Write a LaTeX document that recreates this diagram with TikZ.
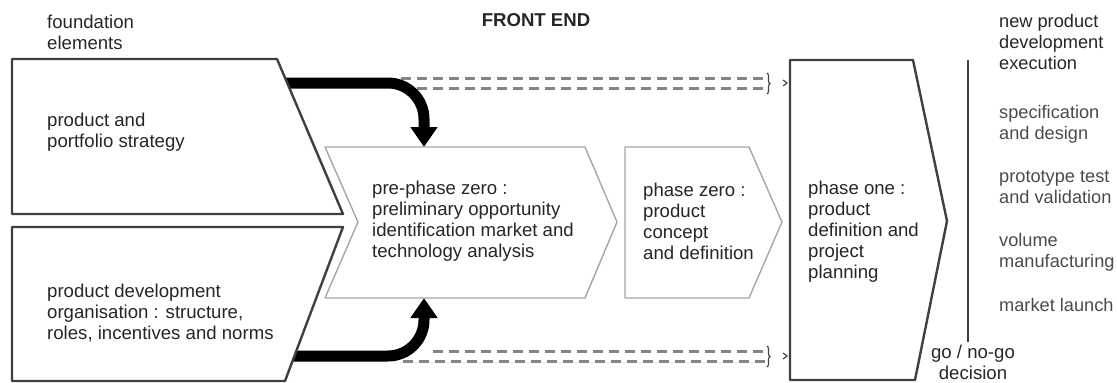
\documentclass[tikz,border=0pt]{standalone}
\usepackage{fontspec}
\setmainfont{Liberation Sans}
\usetikzlibrary{arrows.meta,calc,decorations.pathreplacing}
\definecolor{ink}{HTML}{262626}
\definecolor{soft}{HTML}{4A4A4A}
\definecolor{edge}{HTML}{404040}
\definecolor{pale}{HTML}{A6A6A6}
\definecolor{dashgrey}{HTML}{858585}
\begin{document}
\begin{tikzpicture}[x=1pt,y=-1pt,
  txt/.style={font=\fontsize{18.6}{21}\selectfont, text=ink, align=left, anchor=west, inner sep=0pt},
  sidetxt/.style={txt, font=\fontsize{18.2}{21}\selectfont, text=soft},
  heavybox/.style={draw=edge, line width=2.4pt, fill=white, line join=round},
  lightbox/.style={draw=pale, line width=1.4pt, fill=white, line join=round},
  feed/.style={line width=11pt, rounded corners=36pt, -{Triangle[width=26pt,length=20pt]}},
  trace/.style={draw=dashgrey, line width=3pt, dash pattern=on 10pt off 6pt},
  tick/.style={draw=edge, line width=1.1pt},
  divider/.style={draw=edge, line width=2.4pt}]
\useasboundingbox (0,0) rectangle (1117,383);

% corner points of the shapes
\coordinate (a1) at (12,59);   \coordinate (a2) at (277,59);
\coordinate (a3) at (343,214); \coordinate (a4) at (12,214);
\coordinate (b1) at (12,227);  \coordinate (b2) at (343,227);
\coordinate (b3) at (285,381); \coordinate (b4) at (12,381);
\coordinate (p1) at (325,147); \coordinate (p2) at (585,147);
\coordinate (p3) at (617,222); \coordinate (p4) at (585,298);
\coordinate (p5) at (325,298); \coordinate (p6) at (358,222);
\coordinate (z1) at (625,147); \coordinate (z2) at (749,147);
\coordinate (z3) at (782,222); \coordinate (z4) at (749,298);
\coordinate (z5) at (625,298);
\coordinate (o1) at (790,60);  \coordinate (o2) at (913,60);
\coordinate (o3) at (947,221); \coordinate (o4) at (915,380);
\coordinate (o5) at (790,380);

% dashed continuation to phase one (drawn under the feed arrows)
\coordinate (u1) at (401,78);  \coordinate (u2) at (765,78);
\coordinate (u3) at (401,88);  \coordinate (u4) at (765,88);
\coordinate (l1) at (433,351); \coordinate (l2) at (765,351);
\coordinate (l3) at (403,361); \coordinate (l4) at (765,361);
\draw[trace] (u1) -- (u2);
\draw[trace] (u3) -- (u4);
\draw[trace] (l1) -- (l2);
\draw[trace] (l3) -- (l4);

% heavy feed arrows from the foundation elements
\coordinate (s1) at (280,83);  \coordinate (t1) at (424,147);
\coordinate (s2) at (288,356); \coordinate (t2) at (424,298);
\draw[feed] (s1) -| (t1);
\draw[feed] (s2) -| (t2);

% foundation blocks
\path[heavybox] (a1) -- (a2) -- (a3) -- (a4) -- cycle;
\path[heavybox] (b1) -- (b2) -- (b3) -- (b4) -- cycle;

% front end chevrons
\path[lightbox] (p1) -- (p2) -- (p3) -- (p4) -- (p5) -- (p6) -- cycle;
\path[lightbox] (z1) -- (z2) -- (z3) -- (z4) -- (z5) -- cycle;
\path[heavybox] (o1) -- (o2) -- (o3) -- (o4) -- (o5) -- cycle;

% small braces and entry marks at phase one
\coordinate (ub1) at (767,73); \coordinate (ub2) at (767,94);
\coordinate (lb1) at (767,346); \coordinate (lb2) at (767,367);
\draw[tick, decorate, decoration={brace, amplitude=3pt}] (ub1) -- (ub2);
\draw[tick, decorate, decoration={brace, amplitude=3pt}] (lb1) -- (lb2);
\coordinate (um) at (787,83);  \coordinate (lm) at (787,356);
\draw[tick] ($(um)+(-4,-3)$) -- (um) -- ($(um)+(-4,3)$);
\draw[tick] ($(lm)+(-4,-3)$) -- (lm) -- ($(lm)+(-4,3)$);

% go / no-go divider
\coordinate (g1) at (968,60); \coordinate (g2) at (968,342);
\draw[divider] (g1) -- (g2);

% headings
\node[txt] (found) at (47,32) {foundation\\elements};
\node[txt, anchor=center, font=\fontsize{18.6}{21}\selectfont\bfseries] (front) at (536,20) {FRONT END};
\node[txt, font=\fontsize{18.2}{21}\selectfont] (npd) at (999,42) {new product\\development\\execution};

% block texts
\node[txt] (strat) at (47,132.5) {product and\\portfolio strategy};
\node[txt] (org) at (47,312.5) {product development\\organisation : structure,\\roles, incentives and norms};
\node[txt] (pre) at (372,221) {pre-phase zero :\\preliminary opportunity\\identification market and\\technology analysis};
\node[txt] (zero) at (643,221) {phase zero :\\product\\concept\\and definition};
\node[txt] (one) at (808,231.5) {phase one :\\product\\definition and\\project\\planning};

% execution steps
\node[sidetxt] (spec) at (999,124.5) {specification\\and design};
\node[sidetxt] (proto) at (999,187.5) {prototype test\\and validation};
\node[sidetxt] (vol) at (999,252.5) {volume\\manufacturing};
\node[sidetxt] (mkt) at (999,305) {market launch};
\node[txt, align=center, anchor=center, text=ink] (gate) at (973,362) {go / no-go\\decision};
\end{tikzpicture}
\end{document}
